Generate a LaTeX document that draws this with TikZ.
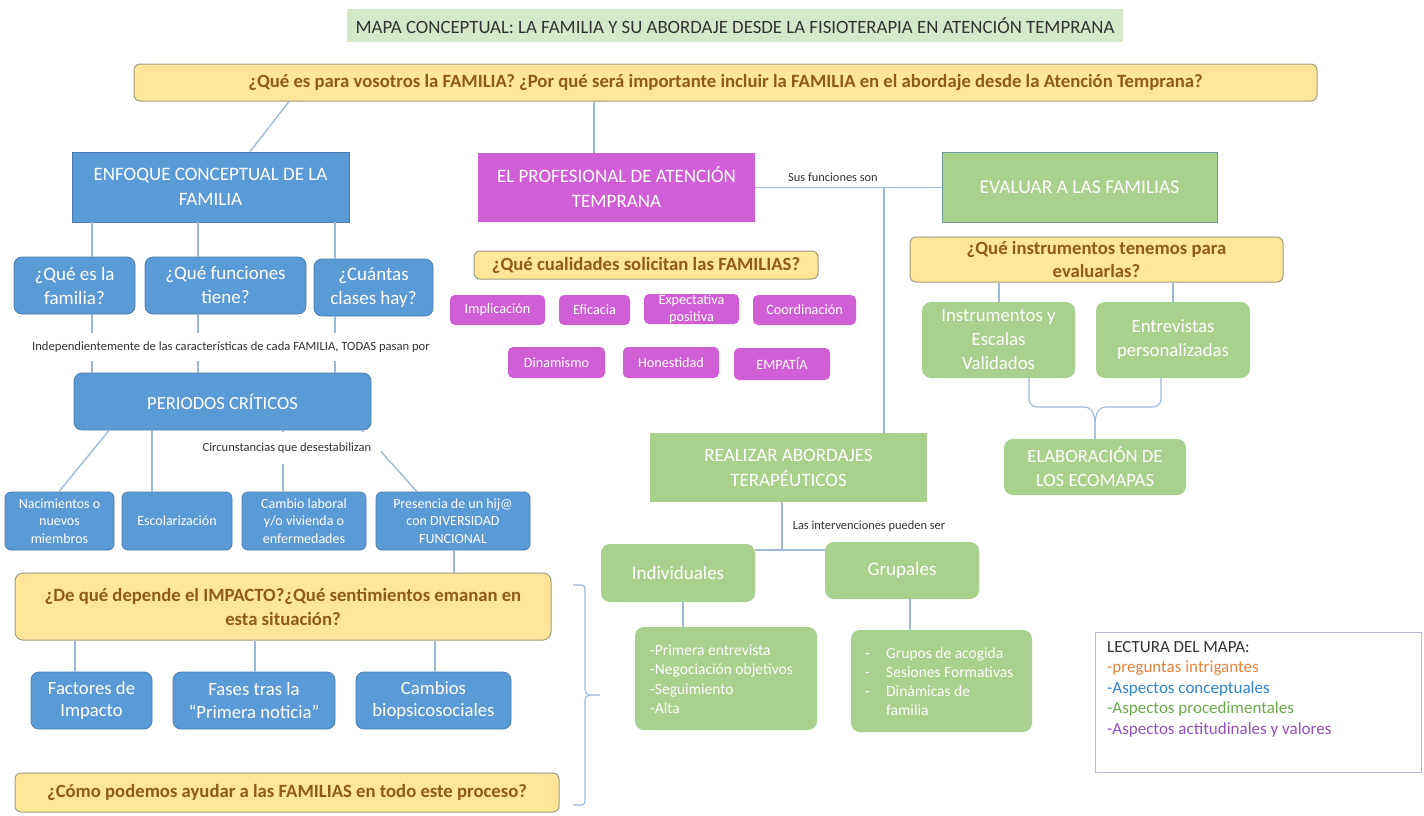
\documentclass[tikz,border=0pt]{standalone}
\usepackage{fontspec}
\setmainfont{Carlito}
\usetikzlibrary{calc}
\definecolor{lineblue}{HTML}{9DB9D6}
\definecolor{bluefill}{HTML}{5B9BD5}
\definecolor{blueedge}{HTML}{4A7EB0}
\definecolor{yelfill}{HTML}{FFE699}
\definecolor{yeledge}{HTML}{A09C80}
\definecolor{yeltext}{HTML}{8F5B17}
\definecolor{greenfill}{HTML}{A9D18E}
\definecolor{greenedge}{HTML}{6F9A9A}
\definecolor{magfill}{HTML}{D05FD6}
\definecolor{titlefill}{HTML}{D5E8C8}
\definecolor{legedge}{HTML}{B9B6DA}
\definecolor{legorange}{HTML}{E8823E}
\definecolor{legblue}{HTML}{2E86CF}
\definecolor{leggreen}{HTML}{6AAA4A}
\definecolor{legpurple}{HTML}{9450C0}
\newcommand{\fs}[2]{\fontsize{#1}{#2}\selectfont}
\tikzset{
  conn/.style={draw=lineblue, line width=1.3pt},
  box/.style={inner sep=0pt, align=center, text=white},
  bluebox/.style={box, fill=bluefill, draw=blueedge, line width=0.8pt, rounded corners=8pt},
  bluesq/.style={box, fill=bluefill, draw=blueedge, line width=0.8pt},
  yelbox/.style={inner sep=0pt, align=center, fill=yelfill, draw=yeledge, line width=1pt, rounded corners=6pt, text=yeltext, font=\bfseries},
  greenbox/.style={box, fill=greenfill, rounded corners=9pt},
  greensq/.style={box, fill=greenfill},
  magbox/.style={box, fill=magfill, rounded corners=5pt},
  lbl/.style={inner sep=0pt, text=black!80},
}
\begin{document}
\begin{tikzpicture}[x=1pt,y=-1pt]
\path[use as bounding box, fill=white] (0,0) rectangle (1424,815);

% title
\node[inner sep=0pt, fill=titlefill, minimum width=776pt, minimum height=33pt, text=black!80, font=\fs{18.8}{22}] (title) at (735,25.5) {MAPA CONCEPTUAL: LA FAMILIA Y SU ABORDAJE DESDE LA FISIOTERAPIA EN ATENCIÓN TEMPRANA};

% main question
\node[yelbox, minimum width=1183pt, minimum height=37pt, font=\fs{18.7}{22}\bfseries] (mainq) at (725.5,82.5) {¿Qué es para vosotros la FAMILIA? ¿Por qué será importante incluir la FAMILIA en el abordaje desde la Atención Temprana?};

% top level boxes
\node[bluesq, minimum width=277pt, minimum height=70pt, font=\fs{19}{25}] (enf) at (210.5,187) {ENFOQUE CONCEPTUAL DE LA\\FAMILIA};
\node[box, fill=magfill, minimum width=277pt, minimum height=69pt, font=\fs{19}{25}] (prof) at (616.5,187.5) {EL PROFESIONAL DE ATENCIÓN\\TEMPRANA};
\node[greensq, draw=greenedge, line width=1pt, minimum width=275pt, minimum height=70pt, font=\fs{19.5}{25}] (eval) at (1079.5,187) {EVALUAR A LAS FAMILIAS};

% left column
\node[bluebox, minimum width=121pt, minimum height=57pt, font=\fs{19}{24}] (q1) at (74.5,285.5) {¿Qué es la\\familia?};
\node[bluebox, minimum width=161pt, minimum height=57pt, font=\fs{19}{24}] (q2) at (225.5,285.5) {¿Qué funciones\\tiene?};
\node[bluebox, minimum width=119pt, minimum height=57pt, font=\fs{19}{24}] (q3) at (373.5,287.5) {¿Cuántas\\clases hay?};
\node[bluebox, minimum width=297pt, minimum height=57pt, font=\fs{18.5}{22}] (per) at (222.5,401.5) {PERIODOS CRÍTICOS};

\node[bluebox, rounded corners=6pt, minimum width=109pt, minimum height=58pt, font=\fs{14}{17.5}] (b1) at (59.5,521) {Nacimientos o\\nuevos\\miembros};
\node[bluebox, rounded corners=6pt, minimum width=110pt, minimum height=58pt, font=\fs{14}{17.5}] (b2) at (177,521) {Escolarización};
\node[bluebox, rounded corners=6pt, minimum width=124pt, minimum height=58pt, font=\fs{14}{17.5}] (b3) at (304,521) {Cambio laboral\\y/o vivienda o\\enfermedades};
\node[bluebox, rounded corners=6pt, minimum width=154pt, minimum height=58pt, font=\fs{14}{17.5}] (b4) at (453,521) {Presencia de un hij@\\con DIVERSIDAD\\FUNCIONAL};

\node[yelbox, rounded corners=8pt, minimum width=536pt, minimum height=67pt, font=\fs{18.7}{24}\bfseries] (imp) at (283,606.5) {¿De qué depende el IMPACTO?¿Qué sentimientos emanan en\\esta situación?};
\node[bluebox, minimum width=121pt, minimum height=57pt, font=\fs{18.7}{22.5}] (f1) at (91.5,700.5) {Factores de\\Impacto};
\node[bluebox, minimum width=162pt, minimum height=57pt, font=\fs{18.7}{22.5}] (f2) at (254,700.5) {Fases tras la\\“Primera noticia”};
\node[bluebox, minimum width=155pt, minimum height=57pt, font=\fs{18.7}{22.5}] (f3) at (433.5,700.5) {Cambios\\biopsicosociales};
\node[yelbox, minimum width=544pt, minimum height=39pt, font=\fs{18.7}{22}\bfseries] (como) at (287,792.5) {¿Cómo podemos ayudar a las FAMILIAS en todo este proceso?};

% middle column
\node[yelbox, minimum width=344pt, minimum height=28pt, font=\fs{18.7}{22}\bfseries] (cual) at (646,265) {¿Qué cualidades solicitan las FAMILIAS?};
\node[magbox, minimum width=95pt, minimum height=30pt, font=\fs{14.2}{15}] (m1) at (497.5,310) {Implicación};
\node[magbox, minimum width=71pt, minimum height=30pt, font=\fs{14.2}{15}] (m2) at (594.5,310) {Eficacia};
\node[magbox, minimum width=95pt, minimum height=30pt, font=\fs{14.2}{16.5}] (m3) at (691.5,309) {Expectativa\\positiva};
\node[magbox, minimum width=103pt, minimum height=30pt, font=\fs{14.2}{15}] (m4) at (804.5,310) {Coordinación};
\node[magbox, minimum width=97pt, minimum height=31pt, font=\fs{14.2}{15}] (m5) at (556.5,362.5) {Dinamismo};
\node[magbox, minimum width=96pt, minimum height=31pt, font=\fs{14.2}{15}] (m6) at (671,362.5) {Honestidad};
\node[magbox, minimum width=96pt, minimum height=32pt, font=\fs{14.2}{15}] (m7) at (782,364) {EMPATÍA};

\node[greensq, minimum width=277pt, minimum height=69pt, font=\fs{19}{25}] (real) at (788.5,467.5) {REALIZAR ABORDAJES\\TERAPÉUTICOS};
\node[greenbox, minimum width=154pt, minimum height=58pt, font=\fs{19}{22}] (ind) at (678,573) {Individuales};
\node[greenbox, minimum width=154pt, minimum height=57pt, font=\fs{19}{22}] (gru) at (902,570.5) {Grupales};
\node[greenbox, minimum width=182pt, minimum height=103pt] (il) at (726,678.5) {};
\node[greenbox, minimum width=181pt, minimum height=102pt] (gl) at (941.5,681) {};
\node[box, anchor=west, align=left, font=\fs{15.5}{19.5}] (iltext) at (650,679) {-Primera entrevista\\-Negociación objetivos\\-Seguimiento\\-Alta};
\node[box, anchor=west, align=left, font=\fs{15.5}{19}] (gltext) at (865,681.5) {\makebox[21pt][l]{-}Grupos de acogida\\\makebox[21pt][l]{-}Sesiones Formativas\\\makebox[21pt][l]{-}Dinámicas de\\\hspace*{21pt}familia};

% right column
\node[yelbox, minimum width=373pt, minimum height=45pt, font=\fs{18.7}{23}\bfseries] (inst) at (1096.5,259.5) {¿Qué instrumentos tenemos para\\evaluarlas?};
\node[greenbox, minimum width=153pt, minimum height=76pt, font=\fs{18.7}{24}] (g1) at (998.5,340) {Instrumentos y\\Escalas\\Validados};
\node[greenbox, minimum width=154pt, minimum height=76pt, font=\fs{18.7}{24}] (g2) at (1173,340) {Entrevistas\\personalizadas};
\node[greenbox, minimum width=182pt, minimum height=56pt, font=\fs{18.7}{24}] (eco) at (1095,467) {ELABORACIÓN DE\\LOS ECOMAPAS};

% legend
\node[draw=legedge, line width=1pt, minimum width=326pt, minimum height=140pt, inner sep=0pt] (leg) at (1258,702) {};
\node[inner sep=0pt, anchor=north west, align=left, font=\fs{17}{20.5}] (legtext) at (1107,641) {\textcolor{black!80}{LECTURA DEL MAPA:}\\\textcolor{legorange}{-preguntas intrigantes}\\\textcolor{legblue}{-Aspectos conceptuales}\\\textcolor{leggreen}{-Aspectos procedimentales}\\\textcolor{legpurple}{-Aspectos actitudinales y valores}};

% connectors
\draw[conn] (mainq.south -| 289,0) -- (enf.north -| 250,0);
\draw[conn] (mainq.south -| 594,0) -- (prof.north -| 594,0);
\draw[conn] (prof.east) -- (prof.east -| eval.west);
\draw[conn] (prof.east -| 884,0) -- (real.north -| 884,0);

\draw[conn] (enf.south -| 92,0) -- (q1.north -| 92,0);
\draw[conn] (enf.south -| 198,0) -- (q2.north -| 198,0);
\draw[conn] (enf.south -| 335,0) -- (q3.north -| 335,0);
\draw[conn] (q1.south -| 92,0) -- (per.north -| 92,0);
\draw[conn] (q2.south -| 198,0) -- (per.north -| 198,0);
\draw[conn] (q3.south -| 335,0) -- (per.north -| 335,0);

\draw[conn] (per.south -| 109,0) -- (b1.north -| 59,0);
\draw[conn] (per.south -| 152,0) -- (b2.north -| 152,0);
\draw[conn] (per.south -| 283,0) -- (b3.north -| 283,0);
\draw[conn] (per.south -| 362,0) -- (b4.north -| 417,0);
\draw[conn] (b4.south -| 454,0) -- (imp.north -| 454,0);

\draw[conn] (imp.south -| 75,0) -- (f1.north -| 75,0);
\draw[conn] (imp.south -| 255,0) -- (f2.north -| 255,0);
\draw[conn] (imp.south -| 435,0) -- (f3.north -| 435,0);

\coordinate (split) at (782,550);
\draw[conn] (real.south -| split) -- (split);
\draw[conn] (ind.east |- split) -- (gru.west |- split);
\draw[conn] (ind.south -| 683,0) -- (il.north -| 683,0);
\draw[conn] (gru.south -| 910,0) -- (gl.north -| 910,0);

\draw[conn] (inst.south -| 999,0) -- (g1.north -| 999,0);
\draw[conn] (inst.south -| 1173,0) -- (g2.north -| 1173,0);
\coordinate (bl) at (1029,407);
\coordinate (br) at (1161,407);
\draw[conn, line width=1.1pt] (g1.south -| bl) -- ($(bl)+(0,-8)$) to[out=-90,in=180] ($(bl)+(8,0)$) -- (1084,407) to[out=0,in=90] (eco.north -| 1095,0);
\draw[conn, line width=1.1pt] (g2.south -| br) -- ($(br)+(0,-8)$) to[out=-90,in=0] ($(br)+(-8,0)$) -- (1106,407) to[out=180,in=90] (eco.north -| 1095,0);

% right bracket next to impact block
\coordinate (brtop) at (573,585);
\coordinate (brbot) at (573,805);
\coordinate (brtip) at (600,695);
\draw[conn, line width=1.1pt] (brtop) -- (582,585) to[out=0,in=90] (585,589) -- (585,690) to[out=-90,in=180] (590,695) -- (brtip);
\draw[conn, line width=1.1pt] (brbot) -- (582,805) to[out=0,in=-90] (585,801) -- (585,700) to[out=90,in=180] (590,695);

% labels on connectors
\node[lbl, fill=white, inner xsep=3pt, inner ysep=9pt, font=\fs{12.6}{14}] (lindep) at (231,347) {Independientemente de las características de cada FAMILIA, TODAS pasan por};
\node[lbl, fill=white, inner xsep=10pt, inner ysep=11pt, font=\fs{12.5}{14}] (lcirc) at (287,448) {Circunstancias que desestabilizan};
\node[lbl, font=\fs{12.4}{14}] (lsus) at (833,177) {Sus funciones son};
\node[lbl, font=\fs{12.4}{14}] (llas) at (869,526) {Las intervenciones pueden ser};
\end{tikzpicture}
\end{document}
